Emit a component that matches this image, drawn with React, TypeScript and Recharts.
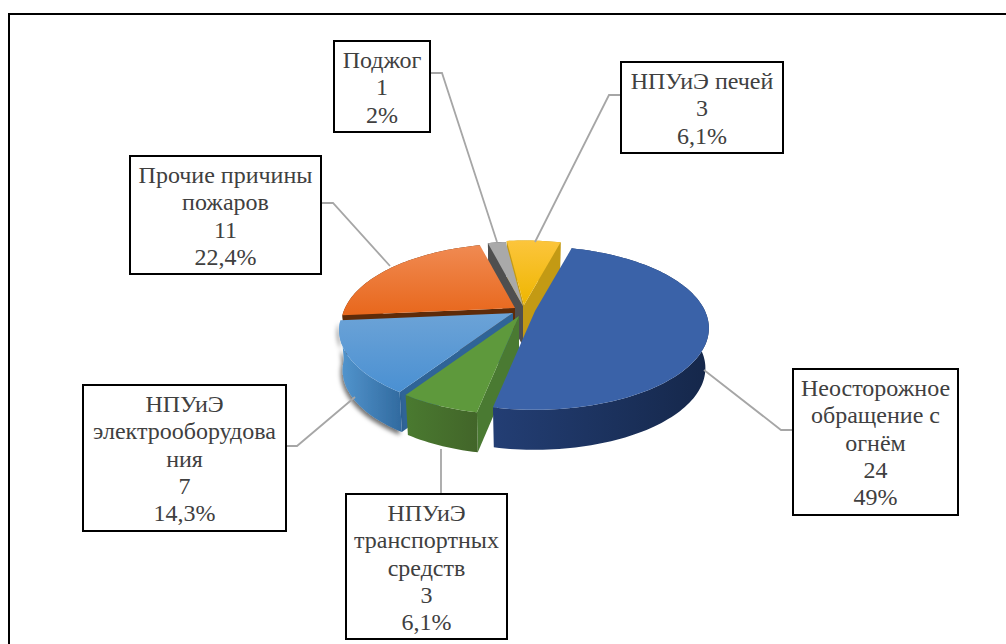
import React from "react";
import { PieChart, Pie } from "recharts";

const categories = [
  "Неосторожное обращение с огнём",
  "НПУиЭ транспортных средств",
  "НПУиЭ электрооборудования",
  "Прочие причины пожаров",
  "Поджог",
  "НПУиЭ печей",
];
const values = [24, 3, 7, 11, 1, 3];
const percentLabels = ["49%", "6,1%", "14,3%", "22,4%", "2%", "6,1%"];
const nameLines = [
  ["Неосторожное", "обращение с", "огнём"],
  ["НПУиЭ", "транспортных", "средств"],
  ["НПУиЭ", "электрооборудова", "ния"],
  ["Прочие причины", "пожаров"],
  ["Поджог"],
  ["НПУиЭ печей"],
];

const topColors = ["url(#topBlue)", "#5e993c", "url(#topLight)", "url(#topOrange)", "#a9a9a9", "url(#topYellow)"];
const wallColors = ["url(#wallBlue)", "url(#wallGreen)", "url(#wallLight)", "#5e2b09", "#4f4f4f", "#c39a14"];
const radialColors = ["#1f3864", "#4a7a32", "#2f6497", "#5e2b09", "#4f4f4f", "#c39a14"];

// slice displacement from the pie centre (explosion)
const explode = [
  [15, 3],
  [-1, 8],
  [-7, 5],
  [-5, 0],
  [3, -2],
  [4, -3],
];
// [x, y, width, height]
const boxes = [
  [793, 369, 165, 146],
  [346, 494, 161, 145],
  [83, 385, 203, 146],
  [130, 156, 191, 118],
  [334, 41, 96, 91],
  [621, 62, 162, 91],
];
const leaders = [
  [[793, 430], [781, 430], [704, 370]],
  [[441, 494], [441, 449]],
  [[286, 446], [297, 446], [355, 397]],
  [[321, 203], [333, 203], [390, 266]],
  [[430, 73], [442, 73], [497, 242]],
  [[621, 95], [609, 95], [535, 242]],
];

const CX = 520;
const CY = 308;
const RADIUS = 170;
const TILT = 0.459;
const PERSPECTIVE = 0.21;
const DEPTH = 40;
const BOTTOM_SCALE = 0.98;
const rad = Math.PI / 180;

type Pt = [number, number];

function project(theta: number, ox: number, oy: number, R: number): Pt {
  const u = Math.sin(theta * rad);
  const v = -Math.cos(theta * rad);
  const d = 1 - PERSPECTIVE * v;
  return [ox + (R * u) / d, oy + (R * TILT * v) / d];
}
function lower(p: Pt, ox: number): Pt {
  return [ox + (p[0] - ox) * BOTTOM_SCALE, p[1] + DEPTH];
}
function toPath(pts: Pt[]): string {
  return "M" + pts.map((p) => p[0].toFixed(2) + "," + p[1].toFixed(2)).join("L") + "Z";
}
function arcOf(a: number, b: number, ox: number, oy: number, R: number): Pt[] {
  const n = Math.max(2, Math.ceil((b - a) / 1.5));
  const out: Pt[] = [];
  for (let i = 0; i <= n; i++) out.push(project(a + ((b - a) * i) / n, ox, oy, R));
  return out;
}

function sliceGeometry(props: any) {
  const name = props.name ?? props.payload?.name;
  const idx = categories.indexOf(name);
  const a1 = 90 - props.startAngle;
  const a2 = 90 - props.endAngle;
  const a = Math.min(a1, a2);
  const b = Math.max(a1, a2);
  const ox = props.cx + explode[idx][0];
  const oy = props.cy + explode[idx][1];
  return { idx, a, b, ox, oy, R: props.outerRadius };
}

function TopFace(props: any) {
  const { idx, a, b, ox, oy, R } = sliceGeometry(props);
  return <path d={toPath([[ox, oy], ...arcOf(a, b, ox, oy, R)])} fill={topColors[idx]} stroke="none" />;
}

function WallFace(props: any) {
  const { idx, a, b, ox, oy, R } = sliceGeometry(props);
  const arc = arcOf(a, b, ox, oy, R);
  const outer = [...arc, ...[...arc].reverse().map((p) => lower(p, ox))];
  const apex: Pt = [ox, oy];
  const apexLow: Pt = [ox, oy + DEPTH];
  const startEdge = project(a, ox, oy, R);
  const endEdge = project(b, ox, oy, R);
  const showStart = -Math.sin(a * rad) > 0;
  const showEnd = Math.sin(b * rad) > 0;
  return (
    <g>
      {showStart && (
        <path d={toPath([apex, startEdge, lower(startEdge, ox), apexLow])} fill={radialColors[idx]} />
      )}
      {showEnd && <path d={toPath([apex, endEdge, lower(endEdge, ox), apexLow])} fill={radialColors[idx]} />}
      <path d={toPath(outer)} fill={wallColors[idx]} filter={idx === 2 ? "url(#wallShadow)" : undefined} />
    </g>
  );
}

function renderLabel(props: any) {
  const i = props.index;
  const [x, y, w, h] = boxes[i];
  const lines = [...nameLines[i], String(values[i]), percentLabels[i]];
  return (
    <g>
      <polyline
        points={leaders[i].map((p) => p.join(",")).join(" ")}
        fill="none"
        stroke="#a6a6a6"
        strokeWidth={1.8}
      />
      <rect x={x} y={y} width={w} height={h} fill="#ffffff" stroke="#000000" strokeWidth={2} />
      {lines.map((t, k) => (
        <text
          key={k}
          x={x + w / 2}
          y={y + 27 + k * 27.3}
          textAnchor="middle"
          style={{ fontFamily: '"Liberation Serif", "Times New Roman", serif', fontSize: 24 }}
          fill="#404040"
        >
          {t}
        </text>
      ))}
    </g>
  );
}

const chartData = categories.map((name, i) => ({ name, value: values[i] }));
const reversedData = [...chartData].reverse();

function grad(id: string, horizontal: boolean, from: string, to: string) {
  return (
    <linearGradient id={id} x1="0" y1="0" x2={horizontal ? "1" : "0"} y2={horizontal ? "0" : "1"}>
      <stop offset="0%" stopColor={from} />
      <stop offset="100%" stopColor={to} />
    </linearGradient>
  );
}

export default function App() {
  return (
    <div style={{ position: "absolute", left: 0, top: 0, width: 1006, height: 644, background: "#fff", overflow: "hidden" }}>
      <div
        style={{
          position: "absolute",
          left: 8,
          top: 12.5,
          width: 1100,
          height: 800,
          borderLeft: "2px solid #000",
          borderTop: "2px solid #000",
        }}
      />
      <div style={{ position: "absolute", left: 0, top: 0 }}>
        <PieChart width={1006} height={644} margin={{ top: 0, right: 0, bottom: 0, left: 0 }}>
          <defs>
            {grad("topBlue", false, "#3a62a8", "#3a62a8")}
            {grad("topLight", false, "#6ca3d7", "#4a90d2")}
            {grad("topOrange", false, "#f08a52", "#e8671c")}
            {grad("topYellow", false, "#fcc53c", "#eeb600")}
            {grad("wallBlue", true, "#233e74", "#15274a")}
            {grad("wallGreen", true, "#4a7a30", "#426529")}
            {grad("wallLight", true, "#5396cf", "#316a9f")}
            <filter id="wallShadow" x="-20%" y="-20%" width="140%" height="140%">
              <feDropShadow dx="-2" dy="3" stdDeviation="2" floodColor="#000" floodOpacity="0.55" />
            </filter>
          </defs>
          <Pie
            data={reversedData}
            dataKey="value"
            nameKey="name"
            cx={CX}
            cy={CY}
            outerRadius={RADIUS}
            startAngle={-285}
            endAngle={75}
            paddingAngle={0}
            stroke="none"
            isAnimationActive={false}
            shape={WallFace}
            label={false}
            labelLine={false}
          />
          <Pie
            data={chartData}
            dataKey="value"
            nameKey="name"
            cx={CX}
            cy={CY}
            outerRadius={RADIUS}
            startAngle={75}
            endAngle={-285}
            paddingAngle={0}
            stroke="none"
            isAnimationActive={false}
            shape={TopFace}
            label={renderLabel}
            labelLine={false}
          />
        </PieChart>
      </div>
    </div>
  );
}
